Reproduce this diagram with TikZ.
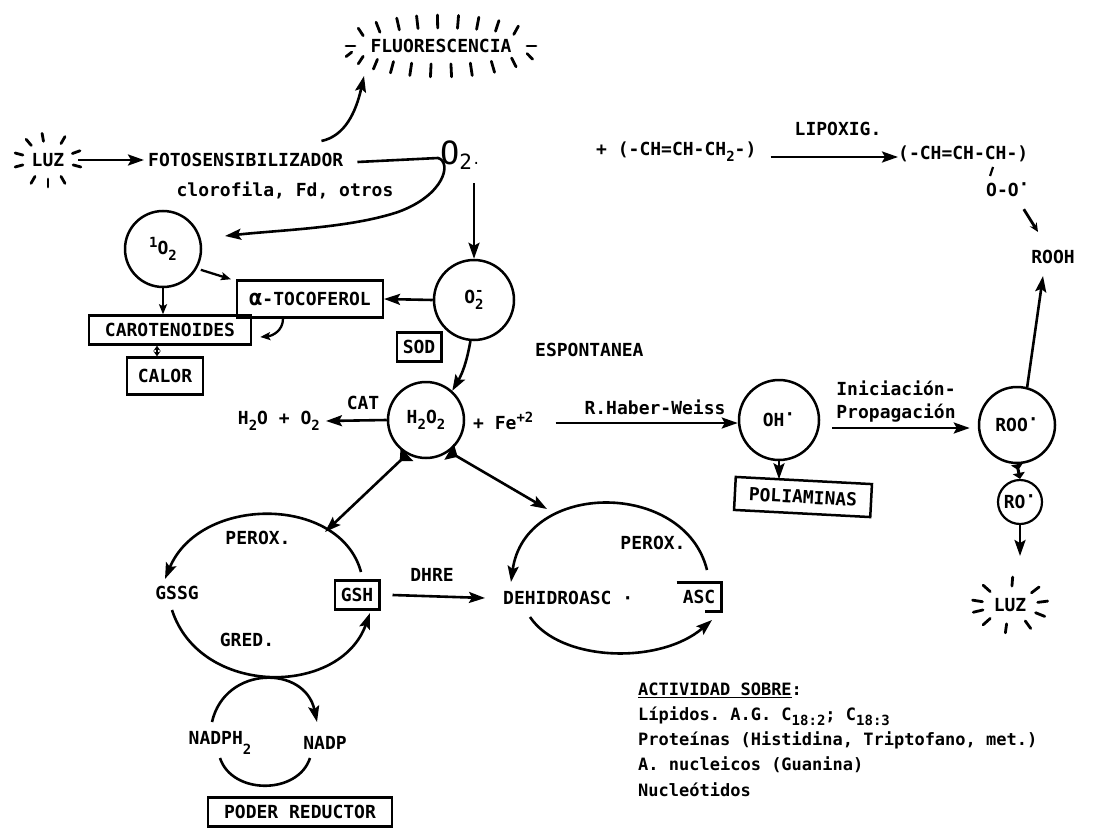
\documentclass[tikz,border=0pt]{standalone}
\usepackage{fontspec}
\setmonofont{DejaVu Sans Mono}
\usetikzlibrary{arrows.meta}
\newcommand\lbf{\ttfamily\bfseries\fontsize{18}{20}\selectfont}
\newcommand\smf{\ttfamily\bfseries\fontsize{14}{15}\selectfont}
\newcommand\sbs[1]{\raisebox{-0.6ex}{\smf #1}}
\newcommand\sps[1]{\raisebox{0.75ex}{\smf #1}}
\newcommand\rdot{\raisebox{0.6ex}{·}}
\begin{document}
\begin{tikzpicture}[x=1pt,y=-1pt,
  txt/.style={inner sep=0pt,font=\lbf},
  lowtxt/.style={inner sep=0pt,font=\ttfamily\bfseries\fontsize{17}{19}\selectfont,anchor=west},
  bx/.style={draw,line width=2.5pt,inner xsep=8pt,inner ysep=8pt,text height=13pt,text depth=0pt,font=\lbf},
  circ/.style={draw,circle,line width=2.5pt,inner sep=0pt,font=\lbf},
  arr/.style={line width=2.6pt,-{Stealth[length=16pt,width=11pt,inset=3pt]}},
  sarr/.style={line width=2.3pt,-{Stealth[length=10pt,width=8pt,inset=2pt]}},
  tick/.style={line width=2.8pt,line cap=round},
  fillet/.style={line width=2.6pt,{Triangle[reversed,length=10pt,width=18pt]}-{Stealth[length=16pt,width=11pt,inset=3pt]}},
]
\useasboundingbox (0,0) rectangle (1099,829);
\fill[white] (0,0) rectangle (1099,829);

% ---------- top row ----------
\node[txt] (luz1) at (48,160) {LUZ};
\foreach \a in {20,60,100,130,165,195,240,270,300,345}
  \draw[tick] ([shift={(\a:26pt and 19pt)}]luz1.center) -- ([shift={(\a:34pt and 27pt)}]luz1.center);
\node[txt,anchor=west] (foto) at (148,160) {FOTOSENSIBILIZADOR};
\draw[arr,shorten >=4pt] ([xshift=14pt]luz1.east) -- (foto.west);
\node[txt] (cloro) at (285,190) {clorofila, Fd, otros};

\node[txt] (fluo) at (441,46) {FLUORESCENCIA};
\foreach \a in {40,55,68,80,92,104,116,130,145,200,215,228,240,252,264,276,288,302,318,335}
  \draw[tick] ([shift={(\a:95pt and 18pt)}]fluo.center) -- ([shift={(\a:101pt and 31pt)}]fluo.center);
\foreach \a in {0,180}
  \draw[tick] ([shift={(\a:86pt and 0pt)}]fluo.center) -- ([shift={(\a:95pt and 0pt)}]fluo.center);
\coordinate (fltip) at (364,76);
\draw[arr] ([xshift=-22pt,yshift=12pt]foto.north east) .. controls (345,136) and (356,112) .. (fltip);

\node[inner sep=0pt,font=\ttfamily\fontsize{32}{32}\selectfont,anchor=west] (o2) at (440,155)
  {O\raisebox{-0.25ex}{\fontsize{21}{21}\selectfont 2}{\fontsize{14}{14}\selectfont .}};

\coordinate (corner) at (438,158);
\coordinate (mid1) at (398,212);
\coordinate (o1tip) at (225,236);
\draw[arr] ([xshift=14pt,yshift=-2pt]foto.east) -- (corner) .. controls (452,162) and (445,195) .. (mid1)
  .. controls (350,228) and (280,230) .. (o1tip);

% right chemistry row
\node[txt,anchor=west] (ch1) at (596,152) {+ (-CH=CH-CH\sbs{2}-)};
\node[txt] (lipox) at (838,129) {LIPOXIG.};
\node[txt,anchor=west] (ch2) at (898,154) {(-CH=CH-CH-)};
\draw[arr] ([xshift=14pt,yshift=-5pt]ch1.east) -- ([yshift=-3pt]ch2.west);
\draw[line width=2.2pt] (993,167) -- (990,176);
\node[txt,anchor=west] (oo) at (986,190) {O-O\rdot};
\node[txt] (rooh) at (1053,257) {ROOH};
\draw[line width=2.8pt,-{Stealth[length=9pt,width=8pt]}] ([xshift=-6pt,yshift=-12pt]oo.south east) -- ([xshift=-15pt,yshift=18pt]rooh.north);

% ---------- middle ----------
\node[circ,minimum size=76pt] (o1) at (163,249) {\sps{1}O\sbs{2}};
\node[circ,minimum size=80pt] (o2m) at (474,300) {O\rlap{\raisebox{0.9ex}{\smf -}}\sbs{2}};
\draw[arr,shorten <=14pt] (o2m.north |- o2.south) -- (o2m.north);

\node[bx,inner xsep=12pt,inner ysep=12pt] (toc) at (310,299) {{\fontsize{22}{22}\selectfont α}-TOCOFEROL};
\node[bx,inner xsep=16pt] (carot) at (170,330) {CAROTENOIDES};
\node[bx,inner xsep=11pt,inner ysep=12pt] (calor) at (165,376) {CALOR};
\node[bx,inner xsep=6pt] (sod) at (419,347) {SOD};

\draw[arr] (o2m.west) -- (toc.east);
\draw[sarr,shorten <=4pt] (o1.-30) -- ([xshift=-5pt]toc.north west);
\draw[sarr] (o1.south) -- (o1.south |- carot.north);
\draw[sarr] ([xshift=-27pt]toc.south) .. controls (283,331) and (272,336) .. ([xshift=8pt,yshift=-7pt]carot.east);
\draw[line width=2.2pt,{Stealth[length=5pt,width=7pt]}-{Stealth[length=5pt,width=7pt]}] ([xshift=-8pt]calor.north) -- ([xshift=-8pt]calor.north |- carot.south);

\node[txt,anchor=west] (esp) at (535,350) {ESPONTANEA};
\node[circ,minimum size=76pt] (h2o2) at (426,420) {H\sbs{2}O\sbs{2}};
\draw[arr] (o2m.-95) to[bend left=10] (h2o2.48);
\node[txt] (cat) at (363,403) {CAT};
\node[txt,anchor=east] (h2o) at (320,421) {H\sbs{2}O + O\sbs{2}};
\draw[arr] (h2o2.west) -- ([xshift=6pt]h2o.east);
\node[txt,anchor=west] (fe) at (473,421) {+ Fe\sps{+2}};
\node[txt] (hw) at (655,407) {R.Haber-Weiss};
\node[circ,minimum size=80pt] (oh) at (779,420) {OH\rdot};
\draw[arr] ([xshift=22pt,yshift=-2pt]fe.east) -- ([yshift=-3pt]oh.west);
\node[bx,inner xsep=14pt,inner ysep=10pt,rotate=-3] (poli) at (803,497) {POLIAMINAS};
\draw[arr] (oh.south) -- (oh.south |- poli.north);
\node[txt] (ini) at (896,388) {Iniciación-};
\node[txt] (prop) at (896,413) {Propagación};
\node[circ,minimum size=76pt] (roo) at (1017,425) {ROO\rdot};
\draw[arr,shorten >=8pt] ([xshift=12pt,yshift=-8pt]oh.east) -- ([yshift=-3pt]roo.west);
\draw[arr] (roo.75) -- ([xshift=-10pt,yshift=-12pt]rooh.south);
\node[circ,minimum size=44pt,line width=2.2pt] (ro) at (1020,502) {RO\rdot};
\draw[line width=3pt,{Triangle[reversed,length=6pt,width=12pt]}-{Triangle[length=6pt,width=12pt]}] (roo.south) -- (ro.north);
\coordinate (rodown) at (1020,556);
\draw[arr] (ro.south) -- (rodown);
\node[txt] (luz2) at (1010,605) {LUZ};
\foreach \a in {8,40,86,135,170,195,225,263,303,336}
  \draw[tick] ([shift={(\a:28pt and 19pt)}]luz2.center) -- ([shift={(\a:38pt and 28pt)}]luz2.center);

% ---------- lower cycles ----------
\coordinate (ltip) at (325,532);
\coordinate (rtip) at (547,509);
\draw[fillet] (h2o2.241) -- (ltip);
\draw[fillet] (h2o2.306) -- (rtip);

\node[txt] (gssg) at (177,593) {GSSG};
\node[bx,inner xsep=6pt] (gsh) at (357,595) {GSH};
\node[txt] (perox1) at (258,538) {PEROX.};
\node[txt] (gred) at (247,640) {GRED.};
\coordinate (a1s) at (361,572);
\coordinate (a1e) at (165,579);
\draw[arr] (a1s) .. controls (340,495) and (200,495) .. (a1e);
\coordinate (a2s) at (172,610);
\coordinate (a2e) at (370,613);
\draw[arr] (a2s) .. controls (200,697) and (340,697) .. (a2e);

\node[txt] (dhre) at (432,575) {DHRE};
\node[txt,anchor=west] (dhasc) at (503,598) {DEHIDROASC ·};
\draw[arr] ([xshift=12pt]gsh.east) -- ([xshift=-18pt]dhasc.west);
\node[txt,inner xsep=6pt,inner ysep=8pt,text height=13pt,text depth=0pt] (asc) at (699,597) {ASC};
\draw[line width=2.5pt] (asc.north west) -- (asc.north east) -- (asc.south east) -- ([xshift=-16pt]asc.south east);
\node[txt] (perox2) at (653,543) {PEROX.};
\coordinate (b1s) at (707,570);
\coordinate (b1e) at (511,582);
\draw[arr] (b1s) .. controls (685,480) and (525,480) .. (b1e);
\coordinate (b2s) at (530,617);
\coordinate (b2e) at (712,620);
\draw[arr] (b2s) .. controls (560,662) and (660,665) .. (b2e);

\node[txt] (nadph) at (220,743) {NADPH\raisebox{-1.0ex}{\smf 2}};
\node[txt] (nadp) at (325,743) {NADP};
\coordinate (n1s) at (212,722);
\coordinate (n1e) at (317,722);
\draw[arr] (n1s) .. controls (225,665) and (305,665) .. (n1e);
\coordinate (n2s) at (220,758);
\coordinate (n2e) at (310,758);
\draw[line width=2.6pt] (n2s) .. controls (232,795) and (298,795) .. (n2e);
\node[bx,inner xsep=16pt] (poder) at (300,812) {PODER REDUCTOR};

% ---------- text block ----------
\node[lowtxt] (act) at (638,690) {\underline{ACTIVIDAD SOBRE}:};
\node[lowtxt] (l1) at (638,716) {Lípidos. A.G. C\sbs{18:2}; C\sbs{18:3}};
\node[lowtxt] (l2) at (638,740) {Proteínas (Histidina, Triptofano, met.)};
\node[lowtxt] (l3) at (638,765) {A. nucleicos (Guanina)};
\node[lowtxt] (l4) at (638,790) {Nucleótidos};
\end{tikzpicture}
\end{document}
